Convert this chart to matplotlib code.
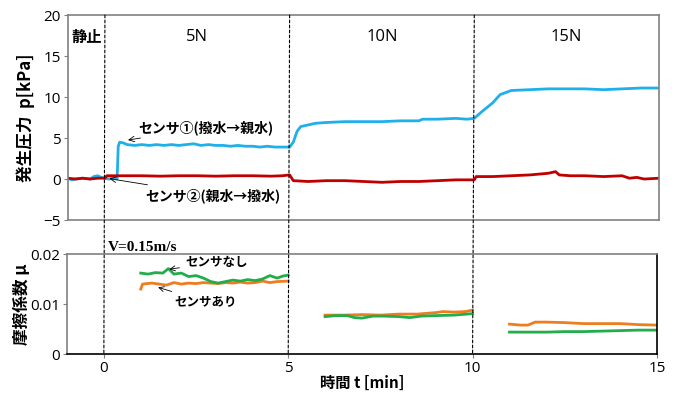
import matplotlib
matplotlib.use("Agg")
import matplotlib.pyplot as plt
from matplotlib.patches import ConnectionPatch

plt.rcParams['font.family'] = ['Noto Sans CJK JP', 'DejaVu Sans']

# -- sensor pressure [kPa] --
t_s1 = [-1.0, -0.9, -0.8, -0.6, -0.4, -0.3, -0.2, -0.1, 0.0, 0.1, 0.2, 0.33, 0.36, 0.4, 0.5,
        0.6, 0.8, 1.0, 1.2, 1.4, 1.6, 1.8, 2.0, 2.2, 2.4, 2.6, 2.8, 3.0, 3.2, 3.4, 3.6, 3.8,
        4.0, 4.2, 4.4, 4.6, 4.8, 5.0, 5.1, 5.2, 5.3, 5.5, 5.7, 6.0, 6.5, 7.0, 7.5, 8.0, 8.5,
        8.6, 9.0, 9.5, 9.8, 10.0, 10.2, 10.5, 10.7, 11.0, 11.5, 12.0, 13.0, 13.5, 14.0, 14.5, 15.0]
p_s1 = [0.1, -0.1, 0.0, 0.1, 0.0, 0.3, 0.4, 0.2, 0.1, 0.0, 0.1, 0.0, 4.0, 4.5, 4.4,
        4.2, 4.1, 4.2, 4.1, 4.2, 4.1, 4.2, 4.1, 4.2, 4.3, 4.1, 4.2, 4.1, 4.1, 4.0, 4.1, 4.0,
        4.0, 3.9, 4.0, 3.9, 3.9, 3.9, 4.5, 5.8, 6.4, 6.6, 6.8, 6.9, 7.0, 7.0, 7.0, 7.1, 7.1,
        7.3, 7.3, 7.4, 7.3, 7.4, 8.2, 9.3, 10.3, 10.8, 10.9, 11.0, 11.0, 10.9, 11.0, 11.1, 11.1]

t_s2 = [-1.0, -0.8, -0.6, -0.4, -0.2, 0.0, 0.05, 0.5, 1.0, 1.5, 2.0, 2.5, 3.0, 3.5, 4.0, 4.5,
        4.8, 5.0, 5.1, 5.5, 6.0, 6.5, 7.0, 7.5, 8.0, 8.5, 9.0, 9.5, 10.0, 10.05, 10.5, 11.0,
        11.5, 12.0, 12.2, 12.3, 12.6, 13.0, 13.5, 14.0, 14.2, 14.4, 14.6, 15.0]
p_s2 = [0.1, 0.0, 0.1, 0.0, 0.1, 0.1, 0.4, 0.4, 0.4, 0.35, 0.4, 0.4, 0.35, 0.4, 0.4, 0.35,
        0.4, 0.5, -0.2, -0.3, -0.2, -0.2, -0.3, -0.4, -0.3, -0.3, -0.2, -0.1, -0.1, 0.3, 0.3, 0.4,
        0.5, 0.7, 0.9, 0.5, 0.4, 0.4, 0.3, 0.4, 0.1, 0.2, 0.0, 0.1]

# -- friction coefficient, three load segments --
t_no = [[1.0, 1.2, 1.4, 1.6, 1.75, 1.9, 2.1, 2.3, 2.5, 2.7, 2.9, 3.1, 3.3, 3.5, 3.7, 3.9,
         4.1, 4.3, 4.5, 4.7, 4.85, 5.0],
        [6.0, 6.3, 6.6, 6.8, 7.0, 7.3, 7.6, 8.0, 8.3, 8.6, 9.0, 9.5, 10.0],
        [11.0, 11.5, 12.0, 12.5, 13.0, 13.5, 14.0, 14.5, 15.0]]
mu_no = [[0.0162, 0.0160, 0.0163, 0.0162, 0.0171, 0.0160, 0.0162, 0.0155, 0.0157, 0.0152,
          0.0145, 0.0142, 0.0145, 0.0148, 0.0146, 0.0149, 0.0147, 0.0150, 0.0157, 0.0152,
          0.0156, 0.0158],
         [0.0075, 0.0077, 0.0077, 0.0073, 0.0072, 0.0076, 0.0076, 0.0075, 0.0073, 0.0076,
          0.0077, 0.0078, 0.0081],
         [0.0044, 0.0044, 0.0044, 0.0045, 0.0045, 0.0046, 0.0047, 0.0048, 0.0048]]

t_with = [[1.0, 1.05, 1.3, 1.5, 1.7, 1.9, 2.1, 2.3, 2.5, 2.7, 2.9, 3.1, 3.3, 3.5, 3.7, 3.9,
           4.1, 4.3, 4.5, 4.7, 5.0],
          [6.0, 6.5, 7.0, 7.5, 8.0, 8.5, 9.0, 9.2, 9.5, 9.8, 10.0],
          [11.0, 11.3, 11.5, 11.7, 12.0, 12.5, 13.0, 13.5, 14.0, 14.5, 15.0]]
mu_with = [[0.0130, 0.0140, 0.0142, 0.0140, 0.0138, 0.0143, 0.0140, 0.0142, 0.0141, 0.0143,
            0.0142, 0.0141, 0.0143, 0.0142, 0.0144, 0.0142, 0.0143, 0.0146, 0.0143, 0.0145,
            0.0146],
           [0.0078, 0.0078, 0.0079, 0.0078, 0.0080, 0.0080, 0.0083, 0.0085, 0.0084, 0.0085,
            0.0088],
           [0.0060, 0.0058, 0.0058, 0.0064, 0.0064, 0.0063, 0.0061, 0.0061, 0.0061, 0.0059,
            0.0058]]

phases = ['静止', '5N', '10N', '15N']
phase_x = [-0.5, 2.5, 7.5, 12.5]
boundaries = [0, 5, 10]

BLUE = '#1fb0ea'
RED = '#c00000'
GREEN = '#22ad4b'
ORANGE = '#ee7d1f'
TICKFONT = 'Open Sans'

fig = plt.figure(figsize=(6.76, 3.97), dpi=100)
ax1 = fig.add_axes([0.1006, 0.4458, 0.8742, 0.5162])
ax2 = fig.add_axes([0.0991, 0.108, 0.8727, 0.252])

ax1.plot(t_s1, p_s1, color=BLUE, lw=2)
ax1.plot(t_s2, p_s2, color=RED, lw=2)
ax1.set_xlim(-1, 15)
ax1.set_ylim(-5, 20)
ax1.set_yticks([-5, 0, 5, 10, 15, 20])
ax1.set_xticks([])
ax1.set_ylabel('発生圧力  p[kPa]', fontsize=12, fontweight='bold', labelpad=6)

for name, x in zip(phases, phase_x):
    if name == '静止':
        ax1.text(x, 17.3, name, ha='center', va='center', fontsize=11, fontweight='bold')
    else:
        ax1.text(x, 17.3, name, ha='center', va='center', fontsize=12, family=TICKFONT)

ax1.annotate('センサ①(撥水→親水)', xy=(0.55, 4.7), xytext=(0.9, 6.3),
             fontsize=10, fontweight='bold', va='center',
             arrowprops=dict(arrowstyle='->', color='black', lw=0.6))
ax1.annotate('センサ②(親水→撥水)', xy=(0.05, 0.1), xytext=(1.1, -2.0),
             fontsize=10, fontweight='bold', va='center',
             arrowprops=dict(arrowstyle='->', color='black', lw=0.6))

for seg_t, seg_mu in zip(t_with, mu_with):
    ax2.plot(seg_t, seg_mu, color=ORANGE, lw=2)
for seg_t, seg_mu in zip(t_no, mu_no):
    ax2.plot(seg_t, seg_mu, color=GREEN, lw=2)
ax2.set_xlim(-1, 15)
ax2.set_ylim(0, 0.02)
ax2.set_xticks([0, 5, 10, 15])
ax2.set_yticks([0, 0.01, 0.02])
ax2.set_yticklabels(['0', '0.01', '0.02'])
ax2.set_ylabel('摩擦係数 μ', fontsize=12, fontweight='bold', labelpad=-1)
ax2.set_xlabel('時間 t [min]', fontsize=11, fontweight='bold', labelpad=-1)

ax2.annotate('センサなし', xy=(1.7, 0.0169), xytext=(2.2, 0.0183),
             fontsize=9, fontweight='bold', va='center',
             arrowprops=dict(arrowstyle='->', color='black', lw=0.6))
ax2.annotate('センサあり', xy=(1.4, 0.0135), xytext=(1.9, 0.0105),
             fontsize=9, fontweight='bold', va='center',
             arrowprops=dict(arrowstyle='->', color='black', lw=0.6))
ax2.text(0.1, 1.07, 'V=0.15m/s', transform=ax2.get_xaxis_transform(),
         fontsize=11, fontweight='bold', family='Liberation Serif', va='center')

for ax in (ax1, ax2):
    for sp in ax.spines.values():
        sp.set_color('#808080')
        sp.set_linewidth(1.2)
    ax.tick_params(labelsize=11, color='#808080', length=3, pad=2)
    for lab in ax.get_xticklabels() + ax.get_yticklabels():
        lab.set_family(TICKFONT)
ax2.spines['bottom'].set_color('black')
ax2.spines['right'].set_color('black')

for x in boundaries:
    con = ConnectionPatch(xyA=(x, 20), coordsA=ax1.transData,
                          xyB=(x, 0), coordsB=ax2.transData,
                          color='black', lw=0.8, linestyle=(0, (2.5, 2)))
    fig.add_artist(con)

fig.savefig('out.png', dpi=100)
